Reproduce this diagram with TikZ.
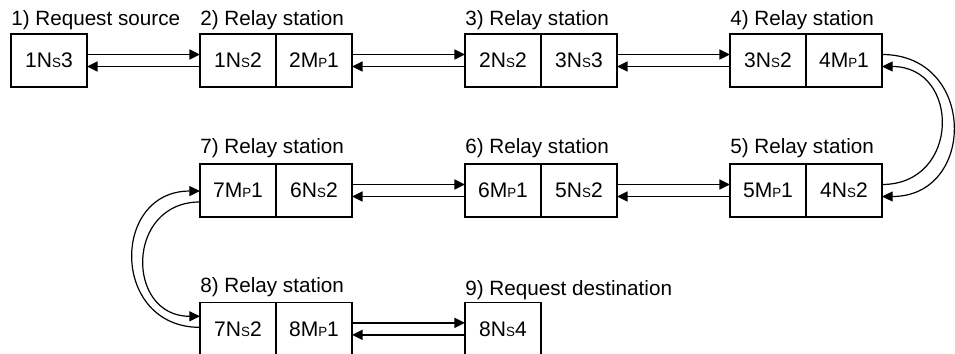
\documentclass[tikz,border=0pt]{standalone}
\usepackage{fontspec}
\setmainfont{Liberation Sans}
\usetikzlibrary{positioning, arrows.meta}
\newcommand{\smcap}[1]{{\fontsize{10pt}{10pt}\selectfont #1}}

\begin{document}
\begin{tikzpicture}[
  cell/.style={rectangle, draw=black, line width=1.1pt, outer sep=0pt, inner sep=0pt,
               minimum width=57pt, minimum height=39.75pt, font=\fontsize{15.8pt}{18pt}\selectfont},
  stationlabel/.style={anchor=base west, inner sep=0pt, font=\fontsize{15.5pt}{18pt}\selectfont},
  arrow/.style={-{Triangle[length=8pt, width=7.5pt]}, line width=1.3pt},
  loop/.style={-{Triangle[length=8pt, width=7.5pt]}, line width=0.9pt},
  node distance=84.75pt
]
  \useasboundingbox (0,0) rectangle (716.25pt,-264.75pt);
  \node[cell, anchor=north west] (src) at (8.25pt,-25.5pt) {1N\smcap{S}3};
  \node[cell, right=of src] (r2a) {1N\smcap{S}2};
  \node[cell, right=0pt of r2a] (r2b) {2M\smcap{P}1};
  \node[cell, right=of r2b] (r3a) {2N\smcap{S}2};
  \node[cell, right=0pt of r3a] (r3b) {3N\smcap{S}3};
  \node[cell, right=of r3b] (r4a) {3N\smcap{S}2};
  \node[cell, right=0pt of r4a] (r4b) {4M\smcap{P}1};

  \node[cell, below=57.75pt of r4a] (r5a) {5M\smcap{P}1};
  \node[cell, right=0pt of r5a] (r5b) {4N\smcap{S}2};
  \node[cell, left=of r5a] (r6b) {5N\smcap{S}2};
  \node[cell, left=0pt of r6b] (r6a) {6M\smcap{P}1};
  \node[cell, left=of r6a] (r7b) {6N\smcap{S}2};
  \node[cell, left=0pt of r7b] (r7a) {7M\smcap{P}1};

  \node[cell, below=64pt of r7a] (r8a) {7N\smcap{S}2};
  \node[cell, right=0pt of r8a] (r8b) {8M\smcap{P}1};
  \node[cell, right=of r8b] (dst) {8N\smcap{S}4};

  \node[stationlabel] (l1) at ([yshift=6.5pt]src.north west) {1) Request source};
  \node[stationlabel] (l2) at ([yshift=6.5pt]r2a.north west) {2) Relay station};
  \node[stationlabel] (l3) at ([yshift=6.5pt]r3a.north west) {3) Relay station};
  \node[stationlabel] (l4) at ([yshift=6.5pt]r4a.north west) {4) Relay station};
  \node[stationlabel] (l5) at ([yshift=8.2pt]r5a.north west) {5) Relay station};
  \node[stationlabel] (l6) at ([yshift=8.2pt]r6a.north west) {6) Relay station};
  \node[stationlabel] (l7) at ([yshift=8.2pt]r7a.north west) {7) Relay station};
  \node[stationlabel] (l8) at ([yshift=7.5pt]r8a.north west) {8) Relay station};
  \node[stationlabel] (l9) at ([yshift=5.5pt]dst.north west) {9) Request destination};

  \draw[arrow] ([yshift=4.5pt]src.east) -- ([yshift=4.5pt]r2a.west);
  \draw[arrow] ([yshift=-4.5pt]r2a.west) -- ([yshift=-4.5pt]src.east);
  \draw[arrow] ([yshift=4.5pt]r2b.east) -- ([yshift=4.5pt]r3a.west);
  \draw[arrow] ([yshift=-4.5pt]r3a.west) -- ([yshift=-4.5pt]r2b.east);
  \draw[arrow] ([yshift=4.5pt]r3b.east) -- ([yshift=4.5pt]r4a.west);
  \draw[arrow] ([yshift=-4.5pt]r4a.west) -- ([yshift=-4.5pt]r3b.east);

  \draw[arrow] ([yshift=4.5pt]r7b.east) -- ([yshift=4.5pt]r6a.west);
  \draw[arrow] ([yshift=-4.5pt]r6a.west) -- ([yshift=-4.5pt]r7b.east);
  \draw[arrow] ([yshift=4.5pt]r6b.east) -- ([yshift=4.5pt]r5a.west);
  \draw[arrow] ([yshift=-4.5pt]r5a.west) -- ([yshift=-4.5pt]r6b.east);

  \draw[arrow] ([yshift=4.5pt]r8b.east) -- ([yshift=4.5pt]dst.west);
  \draw[arrow] ([yshift=-4.5pt]dst.west) -- ([yshift=-4.5pt]r8b.east);

  \draw[loop] ([yshift=4.5pt]r4b.east) to[out=0, in=0, distance=71pt] ([yshift=-4.5pt]r5b.east);
  \draw[loop] ([yshift=4.5pt]r5b.east) to[out=0, in=0, distance=59pt] ([yshift=-4.5pt]r4b.east);
  \draw[loop] ([yshift=1.1pt]r8a.west) to[out=180, in=180, distance=67pt] ([yshift=-0.4pt]r7a.west);
  \draw[loop] ([yshift=-8.6pt]r7a.west) to[out=180, in=180, distance=56pt] ([yshift=9.4pt]r8a.west);
\end{tikzpicture}
\end{document}
